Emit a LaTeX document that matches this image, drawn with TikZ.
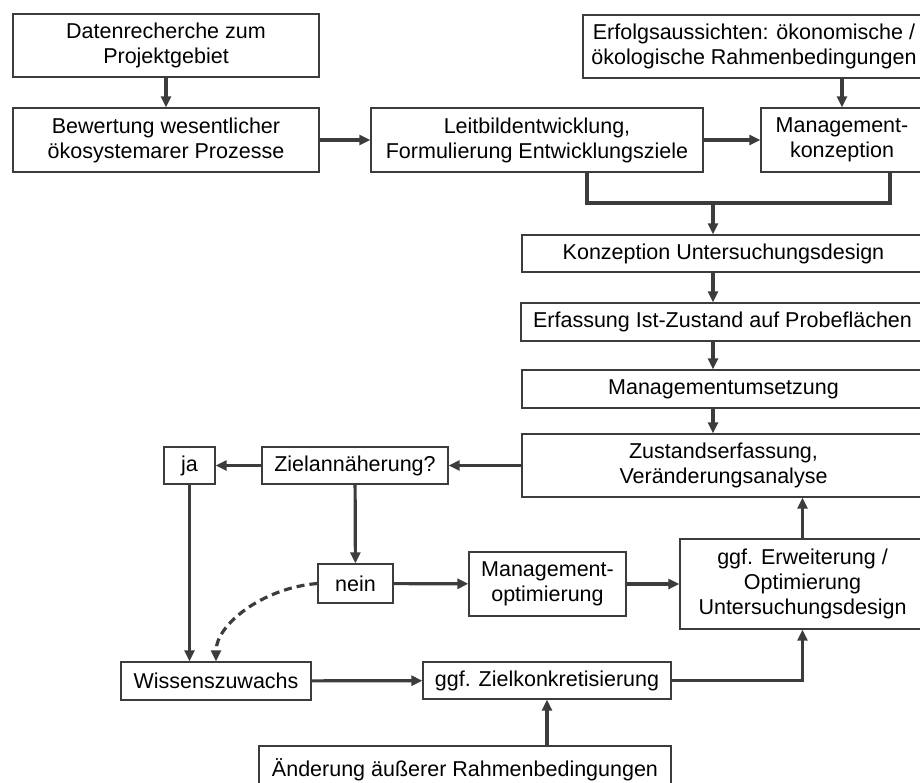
\documentclass[tikz,border=0pt]{standalone}
\usepackage{fontspec}
\setmainfont{Liberation Sans}
\usepackage{tikz}
\usetikzlibrary{arrows.meta}
\definecolor{linegray}{HTML}{3C3C3C}
\tikzset{
  box/.style={draw=linegray,line width=1.3pt,align=center,inner sep=0pt,
    font=\fontsize{21.5}{25}\selectfont},
  conn/.style={draw=linegray,line width=3.2pt},
  arr/.style={conn,-{Triangle[length=11pt,width=10pt]}},
}
\begin{document}
\begin{tikzpicture}[x=1pt,y=-1pt]
\useasboundingbox (0,0) rectangle (920,782);
% left column top
\node[box,minimum width=306,minimum height=63] (daten) at (166,45.5) {Datenrecherche zum\\Projektgebiet};
\node[box,minimum width=306,minimum height=64] (bewert) at (166,140) {Bewertung wesentlicher\\ökosystemarer Prozesse};
\node[box,minimum width=332,minimum height=64] (leit) at (537,140) {Leitbildentwicklung,\\Formulierung Entwicklungsziele};
\node[box,minimum width=342,minimum height=63] (erfolg) at (754,46.5) {Erfolgsaussichten: ökonomische /\\ökologische Rahmenbedingungen};
\node[box,minimum width=162,minimum height=64] (mkonz) at (842,140) {Management-\\konzeption};
% right column
\node[box,minimum width=403,minimum height=37] (konz) at (723.5,253.5) {Konzeption Untersuchungsdesign};
\node[box,minimum width=403,minimum height=38] (erfass) at (722.5,322) {Erfassung Ist-Zustand auf Probeflächen};
\node[box,minimum width=403,minimum height=38] (umsetz) at (723.5,389) {Managementumsetzung};
\node[box,minimum width=403,minimum height=63] (zustand) at (723.5,465.5) {Zustandserfassung,\\Veränderungsanalyse};
\node[box,minimum width=245,minimum height=90] (erweit) at (802.5,584) {ggf. Erweiterung /\\Optimierung\\Untersuchungsdesign};
% decision loop
\node[box,minimum width=186,minimum height=37] (ziel) at (355,465.5) {Zielannäherung?};
\node[box,minimum width=51,minimum height=37] (ja) at (189.5,465.5) {ja};
\node[box,minimum width=75,minimum height=39] (nein) at (355.5,583.5) {nein};
\node[box,minimum width=157,minimum height=64] (mopt) at (547.5,584) {Management-\\optimierung};
\node[box,minimum width=190,minimum height=38] (wissen) at (216,681) {Wissenszuwachs};
\node[box,minimum width=248,minimum height=37] (zielk) at (547,680.5) {ggf. Zielkonkretisierung};
\node[box,minimum width=412,minimum height=48] (aender) at (465,770) {Änderung äußerer Rahmenbedingungen};

\coordinate (brk) at (713,203);
\draw[arr] (daten) -- (bewert);
\draw[arr] (bewert) -- (leit);
\draw[arr] (leit) -- (mkonz);
\draw[arr] (erfolg.south -| mkonz.north) -- (mkonz.north);
\draw[conn] ([xshift=50pt]leit.south) |- (brk) -| ([xshift=48pt]mkonz.south);
\draw[arr] (brk) -- (brk |- konz.north);
\foreach \a/\b in {konz/erfass,erfass/umsetz,umsetz/zustand}
  \draw[arr] (\a.south -| brk) -- (\b.north -| brk);
\draw[arr] (zustand.west) -- (ziel.east);
\draw[arr] (ziel) -- (ja);
\draw[arr] (ziel) -- (nein);
\draw[arr] (nein) -- (mopt);
\draw[arr] (mopt) -- (erweit);
\draw[arr] (erweit.north) -- (erweit.north |- zustand.south);
\draw[arr] (ja.south) -- (ja.south |- wissen.north);
\draw[arr,dash pattern=on 8pt off 5pt] (nein.west) .. controls (262,588) and (216,625) .. (wissen.north);
\draw[arr] (wissen) -- (zielk);
\draw[arr] (zielk.south |- aender.north) -- (zielk.south);
\draw[arr] (zielk.east) -| (erweit.south);
\end{tikzpicture}
\end{document}
